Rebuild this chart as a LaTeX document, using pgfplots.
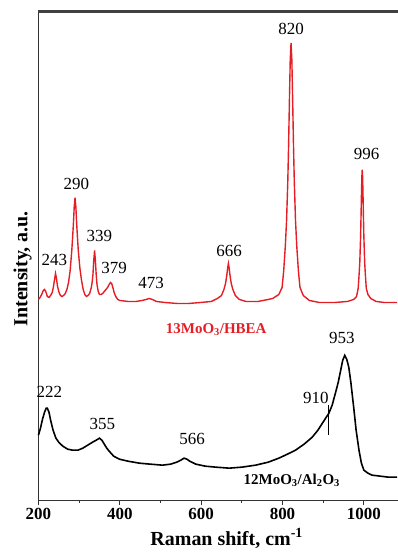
\documentclass[border=0pt]{standalone}
\usepackage{pgfplots}
\pgfplotsset{compat=1.18}
\usepackage{fontspec}
\setmainfont{Liberation Serif}
\definecolor{myred}{RGB}{228,30,36}
\begin{document}
\begin{tikzpicture}
\begin{axis}[
  name=ax,
  scale only axis,
  width=362.7pt, height=490pt,
  xmin=200, xmax=1090, ymin=0, ymax=490,
  axis line style={line width=1.1pt, black!80},
  xtick={200,400,600,800,1000},
  minor x tick num=1,
  ytick=\empty,
  tick pos=bottom,
  xtick align=outside,
  major tick length=5pt, minor tick length=3pt,
  every tick/.style={black!80, line width=1pt},
  /pgf/number format/assume math mode=true,
  /pgf/number format/1000 sep={},
  xticklabel style={font=\fontsize{17}{17}\selectfont\bfseries, yshift=0pt},
  xlabel={Raman shift, cm\textsuperscript{-1}},
  ylabel={Intensity, a.u.},
  xlabel style={font=\fontsize{20}{20}\selectfont\bfseries, at={(axis description cs:0.52,-0.078)}, anchor=center},
  ylabel style={font=\fontsize{20}{20}\selectfont\bfseries, at={(axis description cs:-0.044,0.473)}, anchor=center, rotate=0},
  clip=false,
]
\addplot[myred, line width=1.4pt] coordinates {
(200,201) (204,203) (208,206) (212,210) (215,211) (218,209) (222,204) (226,203) (230,205) (234,208) (237,214) (240,222) (242,227) (244,223) (247,214) (250,209) (254,205) (258,204) (262,205) (266,207) (270,211) (274,218) (278,230) (282,250) (284,263) (286,277) (288,294) (290,303) (292,294) (294,277) (296,263) (298,250) (302,232) (306,220) (310,211) (314,206) (318,204) (322,205) (326,207) (330,213) (332,218) (334,226) (336,240) (338,250) (340,240) (342,226) (344,216) (347,209) (350,206) (354,206) (358,207) (362,209) (366,211) (370,213) (374,216) (377,218) (380,217) (383,213) (386,208) (390,204) (395,201) (400,200) (420,199) (440,199) (455,200) (465,201) (472,202) (480,201) (490,199) (510,198) (540,197) (570,197) (600,198) (625,199) (640,202) (650,205) (656,211) (660,217) (663,225) (665,232) (667,237) (669,232) (671,225) (674,217) (678,211) (684,205) (694,201) (710,199) (740,199) (765,201) (776,202) (791,206) (799,213) (803,230) (807,255) (810,280) (813,319) (815,356) (817,400) (819,441) (821,458) (823,441) (825,400) (827,356) (829,319) (832,280) (835,255) (839,230) (843,213) (851,205) (866,200) (890,198) (930,198) (960,199) (975,201) (982,204) (986,212) (988,224) (990,238) (992,264) (993,283) (994,304) (995,323) (996,331) (997,323) (998,304) (999,283) (1000,264) (1002,238) (1004,224) (1006,212) (1010,206) (1017,202) (1030,199) (1050,198) (1082,198)
};
\addplot[black, line width=1.6pt] coordinates {
(200,65) (205,72) (210,81) (215,88) (219,92) (222,92) (226,88) (230,80) (236,70) (243,62) (250,58) (260,54) (272,51) (284,50) (297,50) (309,52) (321,55) (333,58) (342,60) (350,62) (356,60) (362,56) (368,52) (374,49) (385,44) (399,41) (420,39) (448,37) (475,36) (505,35) (525,36) (540,38) (550,40) (558,42) (565,41) (572,39) (587,36) (610,34) (636,33) (669,32) (700,33) (734,35) (765,38) (791,42) (812,46) (832,50) (853,56) (873,63) (887,70) (898,77) (906,82) (914,87) (922,95) (930,107) (937,118) (943,130) (948,140) (953,145) (958,141) (963,133) (968,118) (975,93) (981,70) (988,50) (994,37) (1000,30) (1010,27) (1020,25) (1040,24) (1060,23) (1082,23)
};
\draw[black, line width=0.6pt] (axis cs:912,65) -- (axis cs:912,95);
\begin{scope}[every node/.style={font=\fontsize{17}{17}\selectfont, inner sep=0pt}]
\node at (axis cs:239,241) {243};
\node at (axis cs:293,317) {290};
\node at (axis cs:350,265) {339};
\node at (axis cs:386,233) {379};
\node at (axis cs:477,218) {473};
\node at (axis cs:669,250) {666};
\node at (axis cs:821,472) {820};
\node at (axis cs:1007,347) {996};
\node at (axis cs:227,108) {222};
\node at (axis cs:357,76) {355};
\node at (axis cs:578,61) {566};
\node at (axis cs:882,102) {910};
\node at (axis cs:946,162) {953};
\end{scope}
\node[font=\fontsize{15}{15}\selectfont\bfseries, text=myred, inner sep=0pt] at (axis cs:637,171) {13MoO\textsubscript{3}/HBEA};
\node[font=\fontsize{15}{15}\selectfont\bfseries, inner sep=0pt] at (axis cs:823,20) {12MoO\textsubscript{3}/Al\textsubscript{2}O\textsubscript{3}};
\end{axis}
\draw[black!75, line width=2.2pt] ([yshift=-0.6pt]ax.north west) -- ([xshift=370pt,yshift=-0.6pt]ax.north west);
\pgfresetboundingbox
\path[use as bounding box] ([shift={(-38.5pt,-53pt)}]ax.south west) rectangle ([shift={(359.5pt,501pt)}]ax.south west);
\end{tikzpicture}
\end{document}
